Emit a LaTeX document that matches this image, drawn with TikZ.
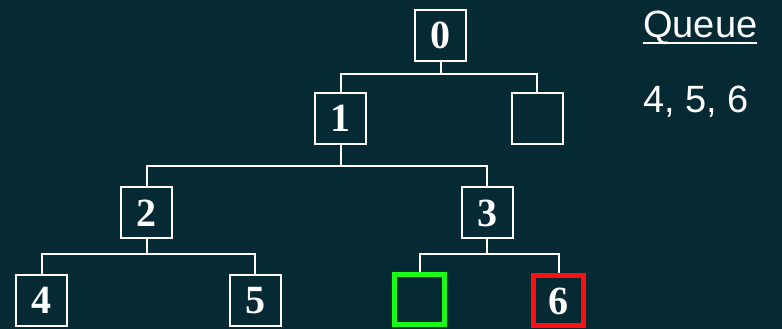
\documentclass[tikz,border=0pt]{standalone}
\usepackage{fontspec}
\setmainfont{Liberation Serif}
\newfontfamily\queuefont{Liberation Sans}
\newcommand\thickul[1]{\leavevmode\setbox0=\hbox{#1}\rlap{\copy0}\rule[-6.5pt]{\wd0}{2.6pt}}
\usetikzlibrary{positioning}
\definecolor{BFSBack}{HTML}{062A33}
\definecolor{BFSGreen}{HTML}{19FF19}
\definecolor{BFSRed}{HTML}{FF1010}

\begin{document}
\begin{tikzpicture}[x=1pt,y=1pt,font=\fontsize{40pt}{42pt}\selectfont\bfseries,
      box/.style={draw=white,line width=2pt,minimum width=51pt,minimum height=51pt,inner sep=0pt,text=white},
      conn/.style={draw=white,line width=2pt},
      qtxt/.style={font=\fontsize{38pt}{40pt}\selectfont\queuefont,text=white,inner sep=0pt,anchor=base west}]
      \fill[BFSBack] (0,0) rectangle (782,329);
      \useasboundingbox (0,0) rectangle (782,329);
      \node[box] (n0) at (440.5,293.5) {0};
      \node[box] (n1) at (340.5,210.5) {1};
      \node[box] (e1) at (537,210.5) {};
      \node[box] (n2) at (146.5,116) {2};
      \node[box] (n3) at (487,116) {3};
      \node[box] (n4) at (41.5,28.5) {4};
      \node[box] (n5) at (255,28.5) {5};
      \node[box,draw=BFSGreen,line width=5pt,minimum width=50pt,minimum height=50pt] (g) at (419.5,29) {};
      \node[box,draw=BFSRed,line width=5pt,minimum width=50pt,minimum height=50pt] (n6) at (558.5,28) {6};
      \draw[conn] (n0.south) -- ++(0,-12.5) -| (n1.north);
      \draw[conn] (n0.south) -- ++(0,-12.5) -| (e1.north);
      \draw[conn] (n1.south) -- ++(0,-21.5) -| (n2.north);
      \draw[conn] (n1.south) -- ++(0,-21.5) -| (n3.north);
      \draw[conn] (n2.south) -- ++(0,-14.5) -| (n4.north);
      \draw[conn] (n2.south) -- ++(0,-14.5) -| (n5.north);
      \draw[conn] (n3.south) -- ++(0,-14.5) -| (g.north);
      \draw[conn] (n3.south) -- ++(0,-14.5) -| (n6.north);
      \node[qtxt] (q) at (643,291) {\thickul{Queue}};
      \node[qtxt] (ql) at (643,216) {4, 5, 6};
    \end{tikzpicture}
\end{document}
